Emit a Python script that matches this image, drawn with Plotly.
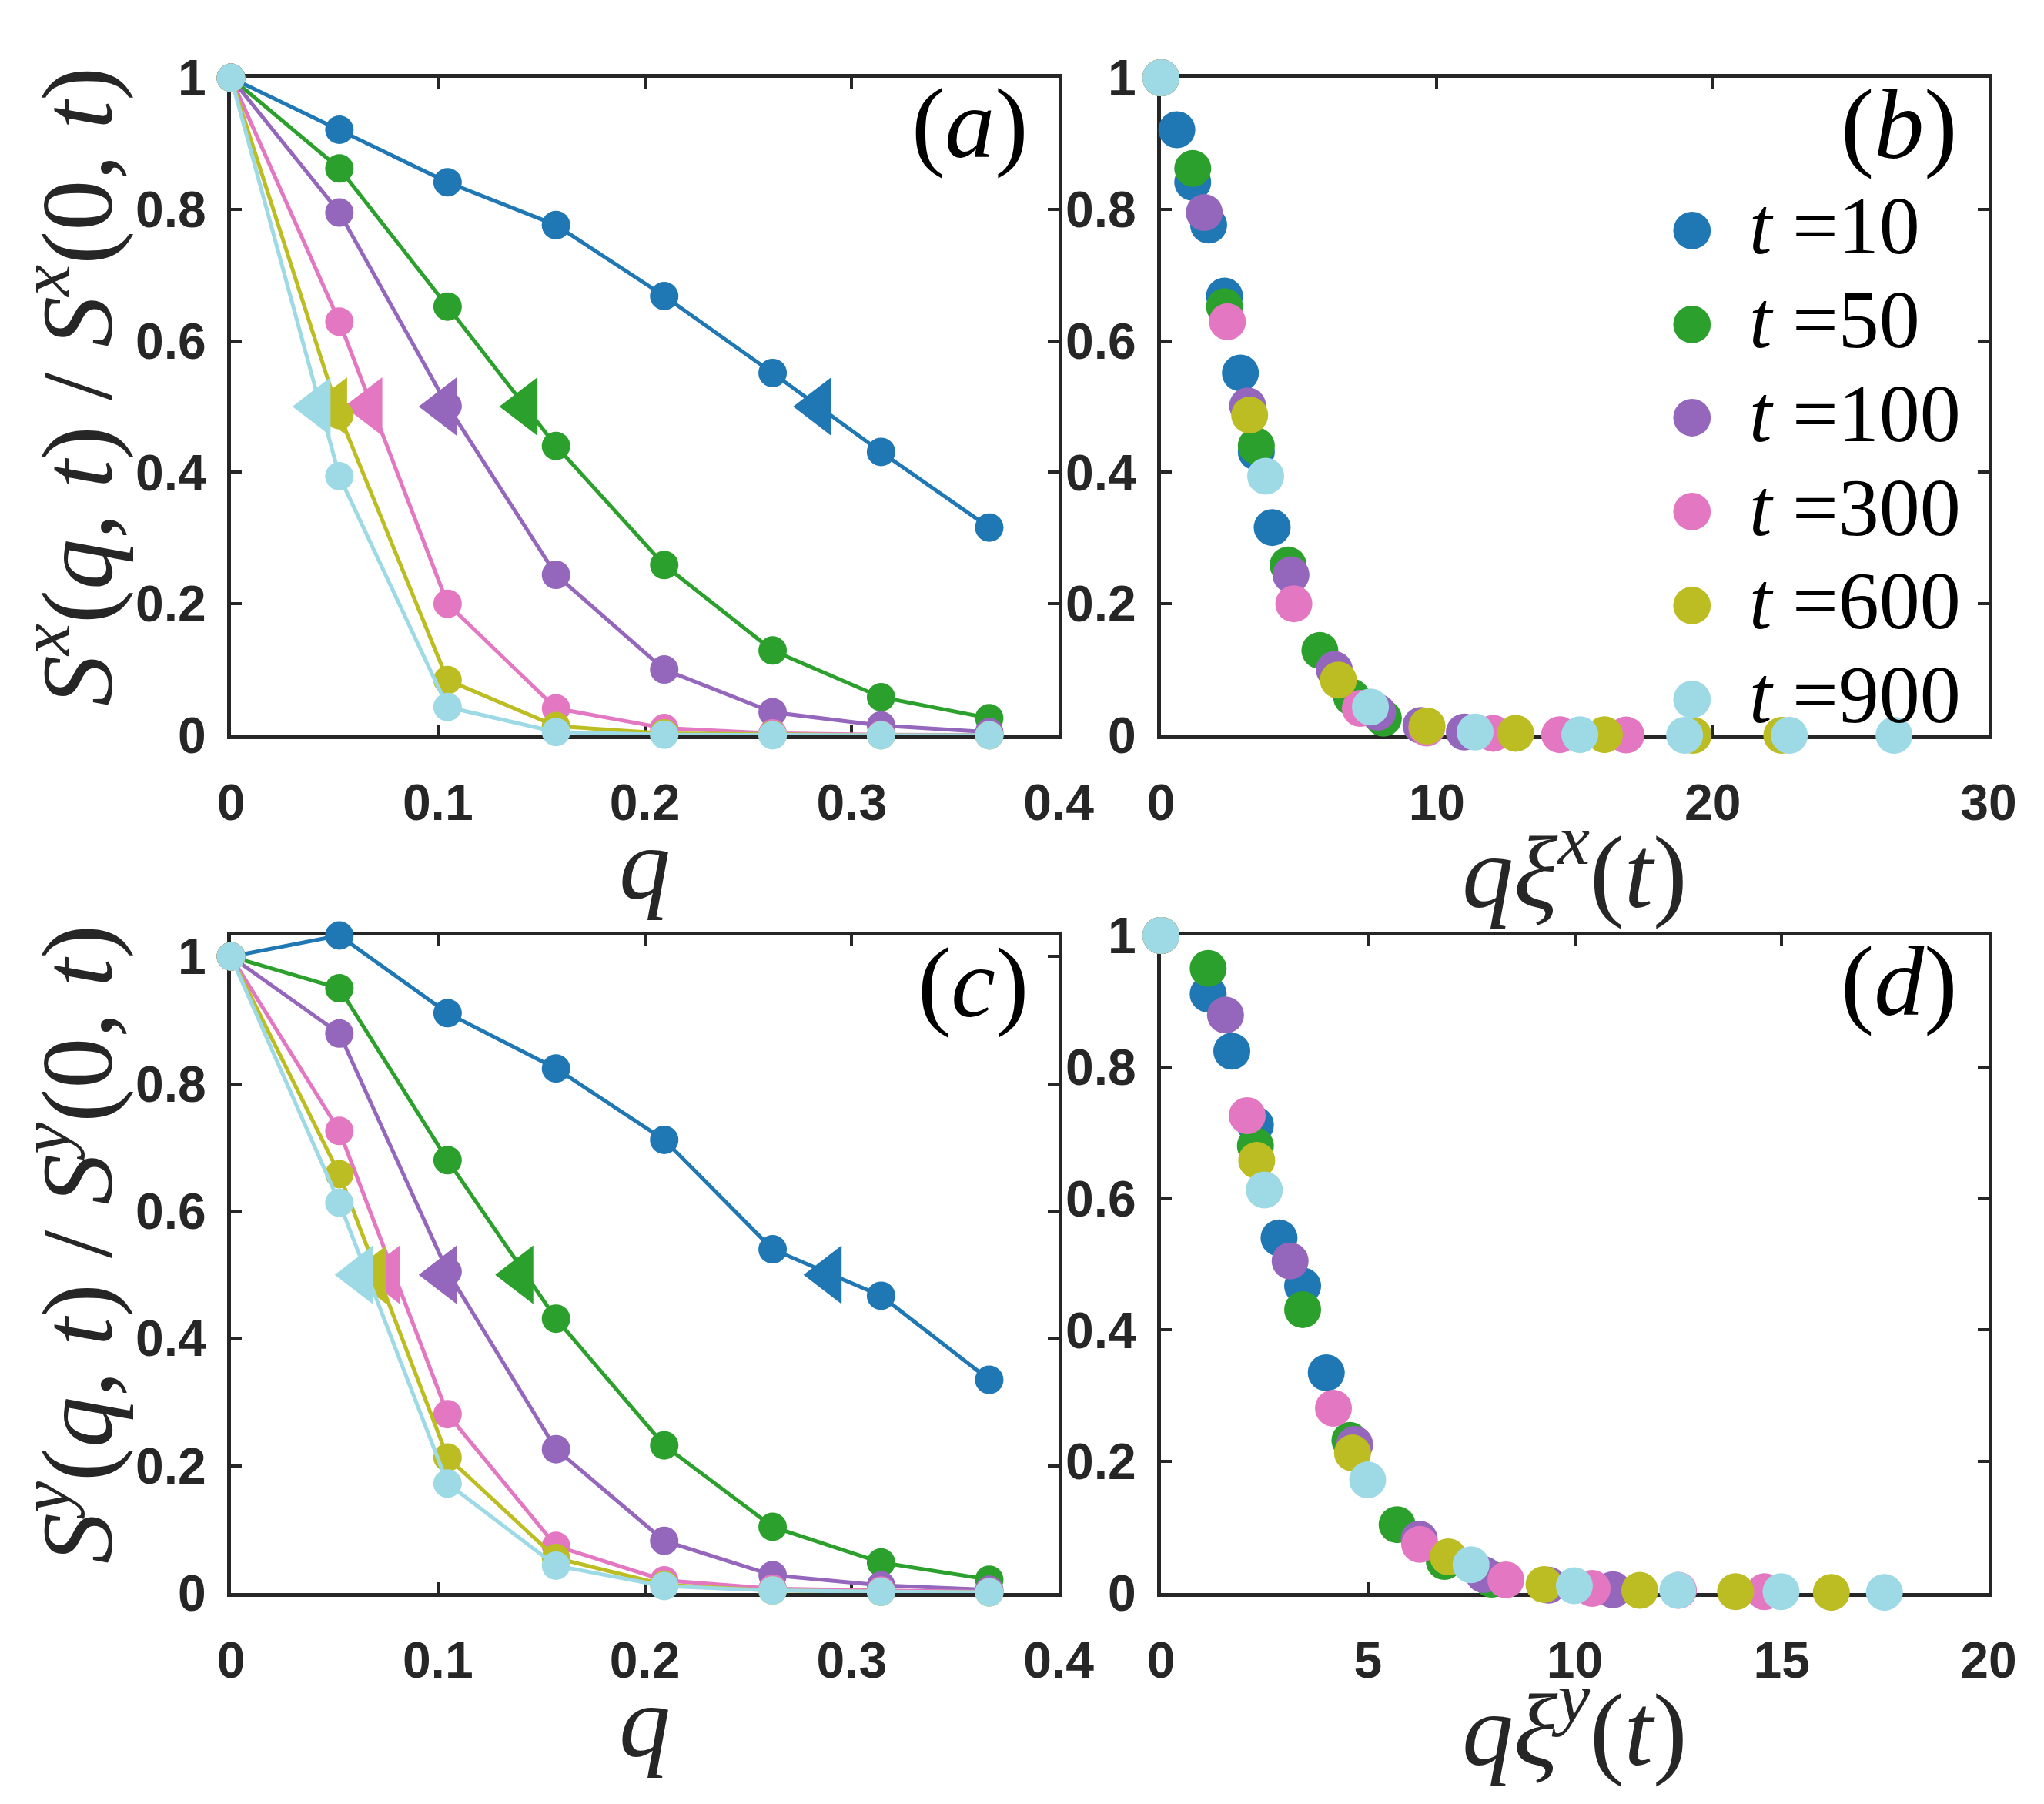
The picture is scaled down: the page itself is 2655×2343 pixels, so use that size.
import plotly.graph_objects as go

W, H = 2655, 2343
INK = "#262626"

times = [10, 50, 100, 300, 600, 900]
colors = ["#1f77b4", "#2ca02c", "#9467bd", "#e377c2", "#bcbd22", "#9edae5"]

# wave numbers
q = [0, 0.0524, 0.1047, 0.1571, 0.2094, 0.2618, 0.3142, 0.3665]

# S^x(q,t)/S^x(0,t), one row per time
sx = [
    [1, 0.921, 0.841, 0.776, 0.668, 0.551, 0.431, 0.316],
    [1, 0.862, 0.652, 0.440, 0.259, 0.129, 0.058, 0.026],
    [1, 0.795, 0.501, 0.244, 0.100, 0.035, 0.015, 0.005],
    [1, 0.629, 0.200, 0.041, 0.011, 0.003, 0.001, 0.0005],
    [1, 0.487, 0.084, 0.014, 0.003, 0.001, 0.0, 0.0],
    [1, 0.394, 0.043, 0.005, 0.001, 0.0, 0.0, 0.0],
]
# q where S^x = 1/2 (triangles)
qhalf_x = [0.284, 0.142, 0.103, 0.067, 0.050, 0.042]
half_x = [0.5, 0.5, 0.5, 0.5, 0.5, 0.5]

# q xi^x(t)
qxi_x = [
    [0, 0.576, 1.152, 1.728, 2.304, 2.880, 3.456, 4.032],
    [0, 1.152, 2.304, 3.456, 4.608, 5.760, 6.912, 8.063],
    [0, 1.571, 3.142, 4.712, 6.283, 7.854, 9.425, 10.996],
    [0, 2.409, 4.817, 7.226, 9.634, 12.043, 14.451, 16.860],
    [0, 3.215, 6.430, 9.645, 12.860, 16.075, 19.289, 22.504],
    [0, 3.796, 7.592, 11.388, 15.184, 18.981, 22.777, 26.573],
]

# S^y(q,t)/S^y(0,t)
sy = [
    [1, 1.033, 0.911, 0.824, 0.712, 0.540, 0.467, 0.335],
    [1, 0.950, 0.680, 0.431, 0.232, 0.104, 0.048, 0.021],
    [1, 0.879, 0.505, 0.226, 0.082, 0.028, 0.012, 0.005],
    [1, 0.726, 0.281, 0.074, 0.020, 0.007, 0.004, 0.002],
    [1, 0.658, 0.213, 0.055, 0.013, 0.004, 0.002, 0.001],
    [1, 0.613, 0.172, 0.043, 0.011, 0.004, 0.002, 0.001],
]
qhalf_y = [0.289, 0.140, 0.103, 0.0755, 0.069, 0.0624]
half_y = [0.5, 0.5, 0.5, 0.5, 0.5, 0.5]

# q xi^y(t)
qxi_y = [
    [0, 0.571, 1.141, 1.712, 2.283, 2.854, 3.424, 3.995],
    [0, 1.141, 2.283, 3.424, 4.566, 5.707, 6.849, 7.990],
    [0, 1.560, 3.121, 4.681, 6.241, 7.802, 9.362, 10.922],
    [0, 2.084, 4.168, 6.252, 8.336, 10.420, 12.504, 14.587],
    [0, 2.314, 4.629, 6.943, 9.257, 11.572, 13.886, 16.200],
    [0, 2.498, 4.995, 7.493, 9.990, 12.488, 14.985, 17.483],
]

fig = go.Figure()

for k in range(len(times)):
    # left panels: curves + half-value triangles
    for yvals, qh, hv, ax in [(sx[k], qhalf_x[k], half_x[k], ("x", "y")),
                              (sy[k], qhalf_y[k], half_y[k], ("x3", "y3"))]:
        fig.add_trace(go.Scatter(x=q, y=yvals, mode="lines+markers", xaxis=ax[0], yaxis=ax[1],
                                 line=dict(color=colors[k], width=5),
                                 marker=dict(color=colors[k], size=37),
                                 cliponaxis=False, showlegend=False))
        fig.add_trace(go.Scatter(x=[qh], y=[hv], mode="markers", xaxis=ax[0], yaxis=ax[1],
                                 marker=dict(color=colors[k], size=66, symbol="triangle-left"),
                                 cliponaxis=False, showlegend=False))
    # right panels: collapse
    fig.add_trace(go.Scatter(x=qxi_x[k], y=sx[k], mode="markers", xaxis="x2", yaxis="y2",
                             marker=dict(color=colors[k], size=48),
                             cliponaxis=False, showlegend=False))
    fig.add_trace(go.Scatter(x=qxi_y[k], y=sy[k], mode="markers", xaxis="x4", yaxis="y4",
                             marker=dict(color=colors[k], size=48),
                             cliponaxis=False, showlegend=False))


def px_x(p):
    return p / W


def px_y(p):
    return 1 - p / H


left_dom = [px_x(292), px_x(1367)]
right_dom = [px_x(1500), px_x(2575)]
top_dom = [px_y(947), px_y(93)]
bot_dom = [px_y(2061), px_y(1207)]

tickfont = dict(family="Liberation Sans, Arial, sans-serif", size=66, color=INK, weight="bold")


def axis(domain, rng, tickvals, anchor, standoff):
    return dict(domain=domain, range=rng, tickmode="array", tickvals=tickvals, anchor=anchor,
                showline=True, mirror="ticks", linecolor=INK, linewidth=5,
                ticks="inside", ticklen=14, tickwidth=4, tickcolor=INK,
                showgrid=False, zeroline=False, layer="below traces", automargin=False,
                tickfont=tickfont, ticklabelstandoff=standoff)


yt = [0, 0.2, 0.4, 0.6, 0.8, 1]
fig.update_layout(
    width=W, height=H, autosize=False,
    margin=dict(l=0, r=0, t=0, b=0, pad=0, autoexpand=False),
    paper_bgcolor="white", plot_bgcolor="white",
    xaxis=axis(left_dom, [0, 0.4], [0, 0.1, 0.2, 0.3, 0.4], "y", 26),
    yaxis=axis(top_dom, [0, 1], yt, "x", 14),
    xaxis2=axis(right_dom, [0, 30], [0, 10, 20, 30], "y2", 26),
    yaxis2=axis(top_dom, [0, 1], yt, "x2", 14),
    xaxis3=axis(left_dom, [0, 0.4], [0, 0.1, 0.2, 0.3, 0.4], "y3", 26),
    yaxis3=axis(bot_dom, [0, 1.033], yt, "x3", 14),
    xaxis4=axis(right_dom, [0, 20], [0, 5, 10, 15, 20], "y4", 26),
    yaxis4=axis(bot_dom, [0, 1], yt, "x4", 14),
)

SERIF = "Liberation Serif, Times New Roman, serif"
ann = []

# panel labels
for lab, xr, yc in [("a", 1330, 152), ("b", 2537, 153), ("c", 1330, 1268), ("d", 2537, 1266)]:
    ann.append(dict(text=f"(<i>{lab}</i>)", x=px_x(xr), y=px_y(yc), xref="paper", yref="paper",
                    xanchor="right", yanchor="middle", showarrow=False,
                    font=dict(family=SERIF, size=130, color="black")))

# axis titles
xt_font = dict(family=SERIF, size=134, color=INK)
for txt, xc, yc in [("<i>q</i>", 829, 1114),
                    ("<i>q\u03be</i><sup><i>x</i></sup>(<i>t</i>)", 2037, 1114),
                    ("<i>q</i>", 829, 2228),
                    ("<i>q\u03be</i><sup><i>y</i></sup>(<i>t</i>)", 2037, 2228)]:
    ann.append(dict(text=txt, x=px_x(xc), y=px_y(yc), xref="paper", yref="paper",
                    xanchor="center", yanchor="middle", showarrow=False, font=xt_font))
yt_font = dict(family=SERIF, size=132, color=INK)
for comp, yc in [("x", 494), ("y", 1608)]:
    txt = (f"<i>S</i><sup><i>{comp}</i></sup>(<i>q</i>, <i>t</i>) / "
           f"<i>S</i><sup><i>{comp}</i></sup>(0, <i>t</i>)")
    ann.append(dict(text=txt, x=px_x(83), y=px_y(yc), xref="paper", yref="paper",
                    xanchor="center", yanchor="middle", textangle=-90, showarrow=False,
                    font=yt_font))

# legend of panel (b)
for k, t in enumerate(times):
    yc = 286 + k * 121.7
    ann.append(dict(text="\u25cf", x=px_x(2190), y=px_y(yc), xref="paper", yref="paper",
                    xanchor="center", yanchor="middle", showarrow=False,
                    font=dict(family="DejaVu Sans", size=64, color=colors[k])))
    ann.append(dict(text=f"<i>t</i> ={t}", x=px_x(2262), y=px_y(yc), xref="paper", yref="paper",
                    xanchor="left", yanchor="middle", showarrow=False,
                    font=dict(family=SERIF, size=106, color="black")))

fig.update_layout(annotations=ann)

fig.write_html("out.html")
